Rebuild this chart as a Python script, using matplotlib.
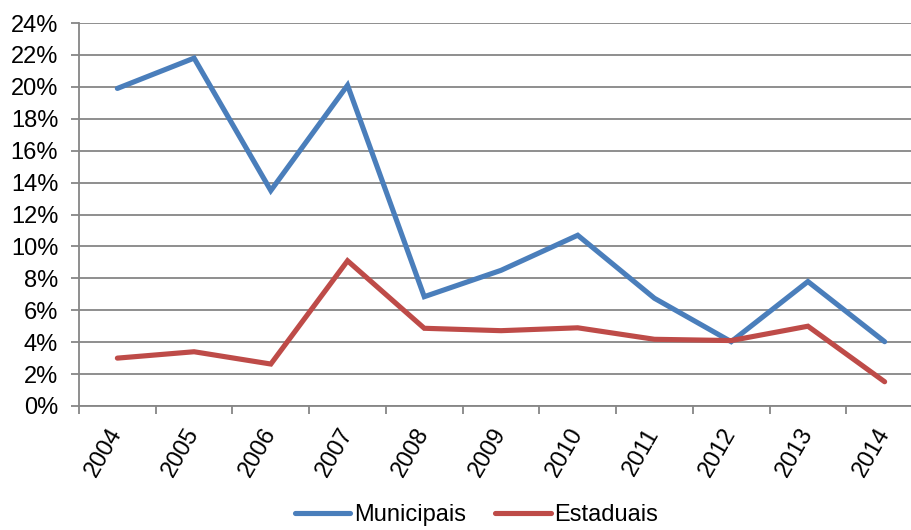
import matplotlib
matplotlib.use("Agg")
import matplotlib.pyplot as plt
from matplotlib.ticker import FuncFormatter, MultipleLocator

plt.rcParams['font.family'] = ['Liberation Sans', 'DejaVu Sans']

years = ['2004', '2005', '2006', '2007', '2008', '2009', '2010', '2011', '2012', '2013', '2014']
municipais = [19.9, 21.8, 13.5, 20.1, 6.85, 8.5, 10.7, 6.75, 4.03, 7.8, 4.03]
estaduais = [3.0, 3.4, 2.63, 9.1, 4.87, 4.72, 4.9, 4.18, 4.1, 5.0, 1.52]

FS = 17
fig = plt.figure(figsize=(9.11, 5.30), dpi=100)
ax = fig.add_axes([79/911, 1 - 406/530, 844/911, 383/530])

x = list(range(len(years)))
ax.plot(x, municipais, color='#4A7EBB', lw=3.7, solid_capstyle='round', solid_joinstyle='miter', label='Municipais', zorder=3)
ax.plot(x, estaduais, color='#BE4B48', lw=3.7, solid_capstyle='round', solid_joinstyle='miter', label='Estaduais', zorder=3)

ax.set_xlim(-0.5, len(years) - 0.5)
ax.set_ylim(0, 24)
ax.yaxis.set_major_locator(MultipleLocator(2))
ax.yaxis.set_major_formatter(FuncFormatter(lambda v, p: f"{v:.0f}%"))
ax.grid(axis='y', color='#868686', lw=1.3)
ax.set_axisbelow(True)

ax.set_xticks([i - 0.5 for i in range(len(years) + 1)])
ax.set_xticklabels([])
ax.set_xticks(x, minor=True)
ax.set_xticklabels(years, minor=True, rotation=60, ha='right', va='center', rotation_mode='anchor', fontsize=FS)
ax.tick_params(axis='x', which='minor', length=0, pad=17)
ax.tick_params(axis='x', which='major', length=6, color='#868686', width=1.3)
ax.tick_params(axis='y', length=6, color='#868686', width=1.3, labelsize=FS, pad=9)

for s in ['top', 'right']:
    ax.spines[s].set_visible(False)
for s in ['left', 'bottom']:
    ax.spines[s].set_color('#868686')
    ax.spines[s].set_linewidth(1.3)

fig.legend(loc='lower center', bbox_to_anchor=(0.523, -0.033), ncol=2, frameon=False,
           fontsize=FS, handlelength=2.35, handletextpad=0.15, columnspacing=1.25)

fig.savefig('out.png', dpi=100)
